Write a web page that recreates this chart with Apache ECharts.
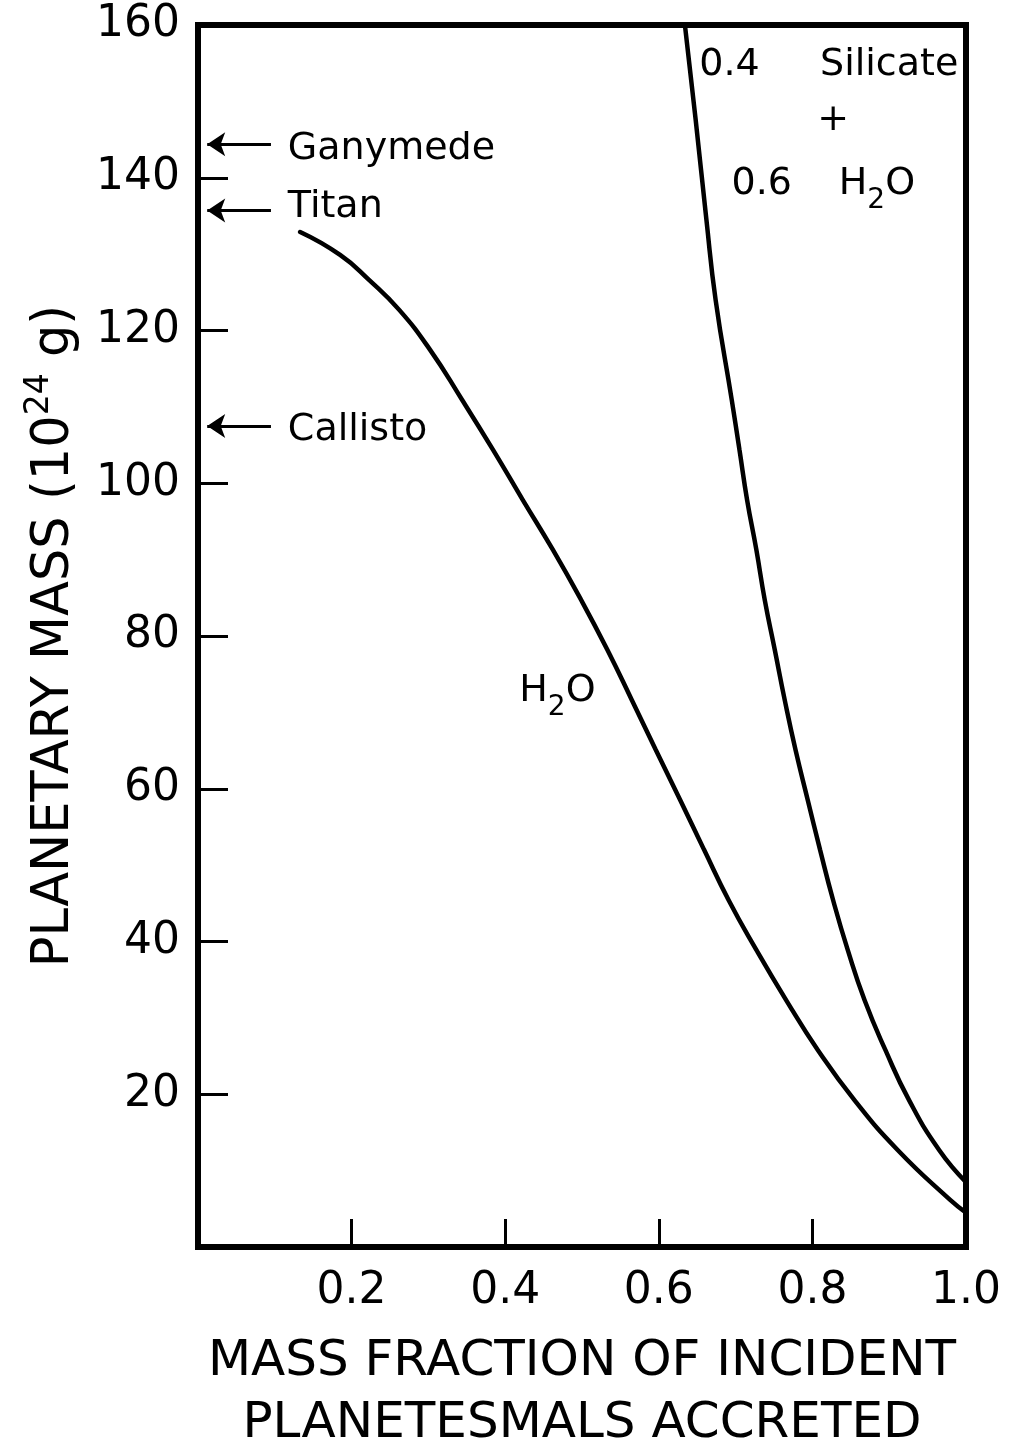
<!DOCTYPE html>
<html>
<head>
<meta charset="utf-8">
<script src="https://cdn.jsdelivr.net/npm/echarts@6/dist/echarts.min.js"></script>
<style>
  html, body { margin: 0; padding: 0; background: #fff; }
  #chart { width: 1013px; height: 1445px; }
</style>
</head>
<body>
<div id="chart"></div>
<script>
// x: mass fraction of incident planetesimals accreted, y: planetary mass (10^24 g)
const waterX = [0.133, 0.185, 0.223, 0.262, 0.302, 0.344, 0.384, 0.423, 0.462, 0.499, 0.533, 0.565, 0.596, 0.628, 0.659, 0.691, 0.727, 0.766, 0.807, 0.855, 0.911, 0.979, 1.0]
const waterY = [132.9, 129.9, 126.6, 122.7, 117.5, 110.9, 104.4, 97.8, 91.3, 84.7, 78.2, 71.6, 65.1, 58.5, 52.0, 45.4, 38.9, 32.3, 25.8, 19.2, 12.7, 6.2, 4.5]
const mixX = [0.634, 0.648, 0.662, 0.674, 0.695, 0.705, 0.715, 0.727, 0.738, 0.751, 0.764, 0.778, 0.794, 0.810, 0.827, 0.846, 0.868, 0.895, 0.926, 0.965, 1.0]
const mixY = [160, 147.6, 134.5, 124.0, 110.9, 104.4, 97.8, 91.3, 84.7, 78.2, 71.6, 65.1, 58.5, 52.0, 45.4, 38.9, 32.3, 25.8, 19.2, 12.7, 8.5]

// satellite masses marked with arrows on the y axis
const moons = ['Ganymede', 'Titan', 'Callisto']
const moonMass = [144.4, 135.7, 107.5]
const moonTextMass = [143.8, 136.2, 106.9]

// in-plot notes: [x, y, text]
const notes = [
  [0.692, 154.8, '0.4'],
  [0.900, 154.8, 'Silicate'],
  [0.827, 147.6, '+'],
  [0.734, 139.2, '0.6'],
  [0.884, 139.2, '{t|H}{sub|2}{t|O}'],
  [0.468, 72.8, '{t|H}{sub|2}{t|O}']
]

const FONT = 'DejaVu Sans'
const chart = echarts.init(document.getElementById('chart'))

const noteRich = {
  t: { fontSize: 38, fontFamily: FONT, color: '#000' },
  sub: { fontSize: 28, fontFamily: FONT, color: '#000', padding: [34, 0, 0, 0] }
}

chart.setOption({
  backgroundColor: '#fff',
  animation: false,
  grid: {
    left: 198,
    right: 47,
    top: 25,
    bottom: 198,
    outerBoundsMode: 'none',
    show: true,
    borderColor: '#000',
    borderWidth: 6
  },
  xAxis: {
    type: 'value',
    min: 0,
    max: 1,
    interval: 0.2,
    name: 'MASS FRACTION OF INCIDENT\nPLANETESMALS ACCRETED',
    nameLocation: 'middle',
    nameGap: 84,
    nameTextStyle: {
      fontFamily: FONT,
      fontSize: 50,
      color: '#000',
      lineHeight: 62,
      verticalAlign: 'top'
    },
    axisLine: { show: false },
    axisTick: { inside: true, length: 28, lineStyle: { color: '#000', width: 3 } },
    splitLine: { show: false },
    axisLabel: {
      fontFamily: FONT,
      fontSize: 44,
      color: '#000',
      margin: 23,
      formatter: v => (v === 0 ? '' : v.toFixed(1))
    }
  },
  yAxis: {
    type: 'value',
    min: 0,
    max: 160,
    interval: 20,
    name: '{t|PLANETARY MASS (10}{sup|24}{t| g)}',
    nameLocation: 'middle',
    nameGap: 112,
    nameRotate: 90,
    nameTextStyle: {
      rich: {
        t: { fontFamily: FONT, fontSize: 51, color: '#000' },
        sup: { fontFamily: FONT, fontSize: 33, color: '#000', padding: [0, 0, 30, 0] }
      }
    },
    axisLine: { show: false },
    axisTick: { inside: true, length: 30, lineStyle: { color: '#000', width: 3 } },
    splitLine: { show: false },
    axisLabel: {
      fontFamily: FONT,
      fontSize: 44,
      color: '#000',
      margin: 18,
      formatter: v => (v === 0 ? '' : String(v))
    }
  },
  series: [
    {
      name: 'H2O',
      type: 'line',
      smooth: 0.5,
      showSymbol: false,
      lineStyle: { color: '#000', width: 4.5, cap: 'round' },
      data: waterX.map((x, i) => [x, waterY[i]])
    },
    {
      name: '0.4 Silicate + 0.6 H2O',
      type: 'line',
      smooth: 0.5,
      showSymbol: false,
      lineStyle: { color: '#000', width: 4.5 },
      data: mixX.map((x, i) => [x, mixY[i]])
    },
    {
      // arrows to the satellite masses
      type: 'lines',
      coordinateSystem: 'cartesian2d',
      symbol: ['none', 'arrow'],
      symbolSize: 18,
      lineStyle: { color: '#000', width: 3, curveness: 0, opacity: 1 },
      data: moonMass.map(m => ({ coords: [[0.095, m], [0.012, m]] }))
    },
    {
      type: 'scatter',
      symbolSize: 0,
      itemStyle: { opacity: 1 },
      label: {
        show: true,
        position: 'right',
        distance: 0,
        fontFamily: FONT,
        fontSize: 38,
        color: '#000',
        formatter: p => moons[p.dataIndex]
      },
      data: moonTextMass.map(m => [0.117, m])
    },
    {
      type: 'scatter',
      symbolSize: 0,
      itemStyle: { opacity: 1 },
      label: {
        show: true,
        position: 'inside',
        fontFamily: FONT,
        fontSize: 38,
        color: '#000',
        formatter: p => notes[p.dataIndex][2],
        rich: noteRich
      },
      data: notes.map(n => [n[0], n[1]])
    }
  ]
})
</script>
</body>
</html>
